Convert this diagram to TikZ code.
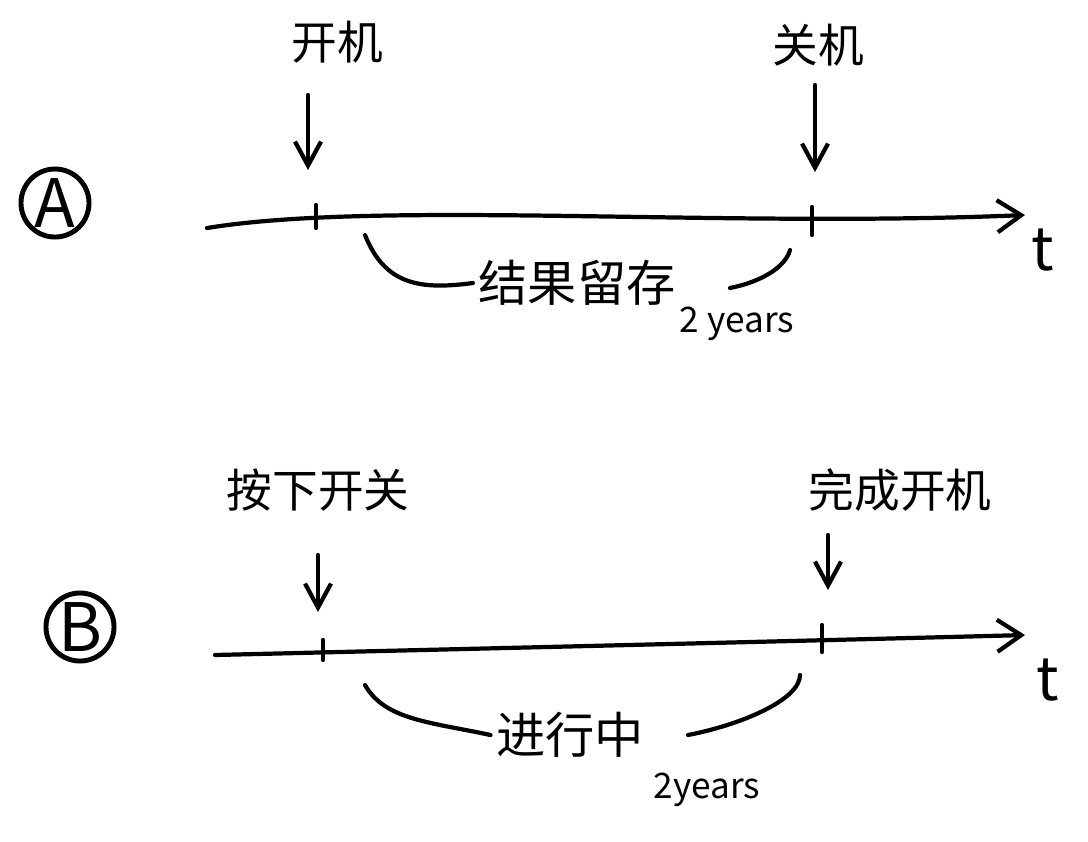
\documentclass[tikz,border=0pt]{standalone}
\usepackage{fontspec}
\setmainfont{Noto Sans CJK SC}
\usetikzlibrary{positioning, arrows.meta}

\tikzset{
	lbl/.style={inner sep=1pt, font=\fontsize{13}{15}\selectfont},
	span/.style={inner sep=1pt, font=\fontsize{14}{16}\selectfont},
	yrs/.style={inner sep=1pt, font=\fontsize{10}{12}\selectfont},
	badge/.style={circle, draw, line width=1.4pt, minimum size=0.68cm, inner sep=0pt, font=\fontsize{19}{21}\selectfont},
	tee/.style={inner sep=0pt, font=\fontsize{17}{19}\selectfont},
	down/.style={-{Straight Barb[length=2.4mm, width=2.6mm]}},
}

\begin{document}
\begin{tikzpicture}[>={Straight Barb[length=2.4mm, width=3.2mm]}, x=0.01cm, y=-0.01cm, line width=1.2pt, line cap=round]
	\useasboundingbox (0, 0) rectangle (1088, 841);

	% row A
	\node[badge] (A) at (55, 203) {A};
	\coordinate (a0) at (207, 228);
	\coordinate (a1) at (1025, 215);
	\draw[->] (a0) .. controls (380, 200) and (720, 228) .. (a1);
	\node[tee] (tA) at (1043, 250) {t};
	\draw (316, 205) -- (316, 228);
	\draw (812, 207) -- (812, 235);

	\node[lbl] (on) at (337, 42) {开机};
	\node[lbl] (off) at (818, 45) {关机};
	\coordinate (onS) at (308, 95);
	\coordinate (onE) at (308, 170);
	\coordinate (offS) at (815, 85);
	\coordinate (offE) at (815, 172);
	\draw[down] (onS) -- (onE);
	\draw[down] (offS) -- (offE);

	\node[span] (keep) at (577, 283) {结果留存};
	\node[yrs] (yA) at (737, 324) {2 years};
	\coordinate (kL) at (365, 235);
	\coordinate (kR) at (790, 250);
	\draw (kL) .. controls (385, 285) and (420, 290) .. (keep.west);
	\draw (730, 288) .. controls (760, 282) and (785, 268) .. (kR);

	% row B
	\node[badge] (B) at (80, 627) {B};
	\coordinate (b0) at (215, 655);
	\coordinate (b1) at (1025, 635);
	\draw[->] (b0) .. controls (420, 650) and (760, 642) .. (b1);
	\node[tee] (tB) at (1048, 680) {t};
	\draw (323, 640) -- (323, 660);
	\draw (822, 625) -- (822, 652);

	\node[lbl] (press) at (318, 490) {按下开关};
	\node[lbl] (done) at (900, 490) {完成开机};
	\coordinate (prS) at (318, 555);
	\coordinate (prE) at (318, 612);
	\coordinate (dnS) at (828, 535);
	\coordinate (dnE) at (828, 590);
	\draw[down] (prS) -- (prE);
	\draw[down] (dnS) -- (dnE);

	\node[span] (run) at (570, 735) {进行中};
	\node[yrs] (yB) at (707, 790) {2years};
	\coordinate (rL) at (365, 685);
	\coordinate (rR) at (800, 675);
	\draw (rL) .. controls (385, 720) and (430, 722) .. (run.west);
	\draw (688, 735) .. controls (740, 725) and (800, 700) .. (rR);
\end{tikzpicture}
\end{document}
